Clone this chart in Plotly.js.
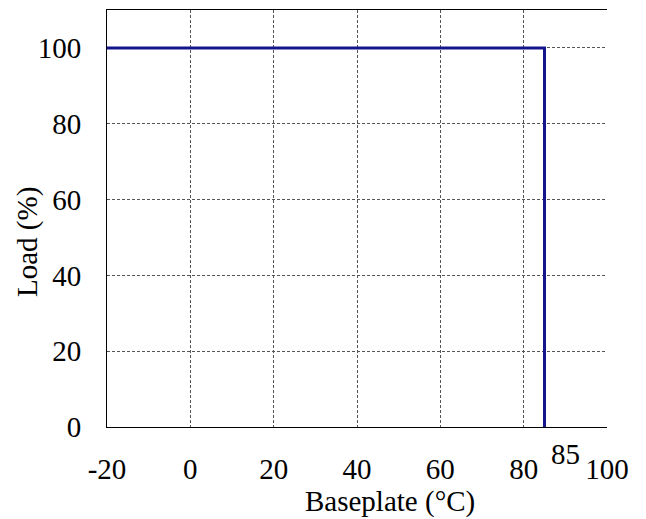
<!DOCTYPE html>
<html>
<head>
<meta charset="utf-8">
<script src="https://cdn.plot.ly/plotly-3.0.1.min.js"></script>
<style>html,body{margin:0;padding:0;background:#fff;}#chart{width:646px;height:519px;}</style>
</head>
<body>
<div id="chart"></div>
<script>
// Derating curve: baseplate temperature vs load
const baseplateTemp = [-20, 85, 85];
const loadPercent = [100, 100, 0];
const xTickVals = [-20, 0, 20, 40, 60, 80, 100];
const xTickText = ['-20', '0', '20', '40', '60', '80', '100'];
const yTickVals = [0, 20, 40, 60, 80, 100];
const yTickText = ['0', '20', '40', '60', '80', '100'];
const markerTemp = 85;
const markerLabel = '85';
const xTitle = 'Baseplate (°C)';
const yTitle = 'Load (%)';

const font = {family: 'Liberation Serif, Times New Roman, serif', size: 29, color: '#000'};

const trace = {
  x: baseplateTemp,
  y: loadPercent,
  mode: 'lines',
  type: 'scatter',
  line: {color: '#14148c', width: 3},
  hoverinfo: 'skip',
  showlegend: false
};

const layout = {
  width: 646,
  height: 519,
  margin: {l: 107, r: 39, t: 10, b: 92},
  paper_bgcolor: '#fff',
  plot_bgcolor: '#fff',
  font: font,
  showlegend: false,
  xaxis: {
    range: [-20, 100],
    tickvals: xTickVals,
    ticktext: xTickText,
    ticks: '',
    ticklabelstandoff: 16,
    showgrid: true,
    gridcolor: '#555',
    griddash: '3px,2px',
    gridwidth: 1,
    zeroline: false,
    showline: true,
    linecolor: '#000',
    linewidth: 1,
    mirror: true,
    tickfont: font,
    automargin: false
  },
  yaxis: {
    range: [0, 110],
    tickvals: yTickVals,
    ticktext: yTickText,
    ticks: '',
    ticklabelstandoff: 19,
    showgrid: true,
    gridcolor: '#555',
    griddash: '3px,2px',
    gridwidth: 1,
    zeroline: false,
    showline: true,
    linecolor: '#000',
    linewidth: 1,
    tickfont: font,
    automargin: false
  },
  annotations: [{
    x: markerTemp,
    xref: 'x',
    xanchor: 'left',
    xshift: 4,
    y: 0,
    yref: 'paper',
    yanchor: 'top',
    yshift: -9,
    text: markerLabel,
    showarrow: false,
    font: font
  }, {
    x: 0.565,
    xref: 'paper',
    xanchor: 'center',
    y: 0,
    yref: 'paper',
    yanchor: 'top',
    yshift: -56,
    text: xTitle,
    showarrow: false,
    font: font
  }, {
    x: 0,
    xref: 'paper',
    xanchor: 'center',
    xshift: -80,
    y: 0.4436,
    yref: 'paper',
    yanchor: 'middle',
    textangle: -90,
    text: yTitle,
    showarrow: false,
    font: font
  }]
};

Plotly.newPlot('chart', [trace], layout, {displayModeBar: false, staticPlot: true});
</script>
</body>
</html>
